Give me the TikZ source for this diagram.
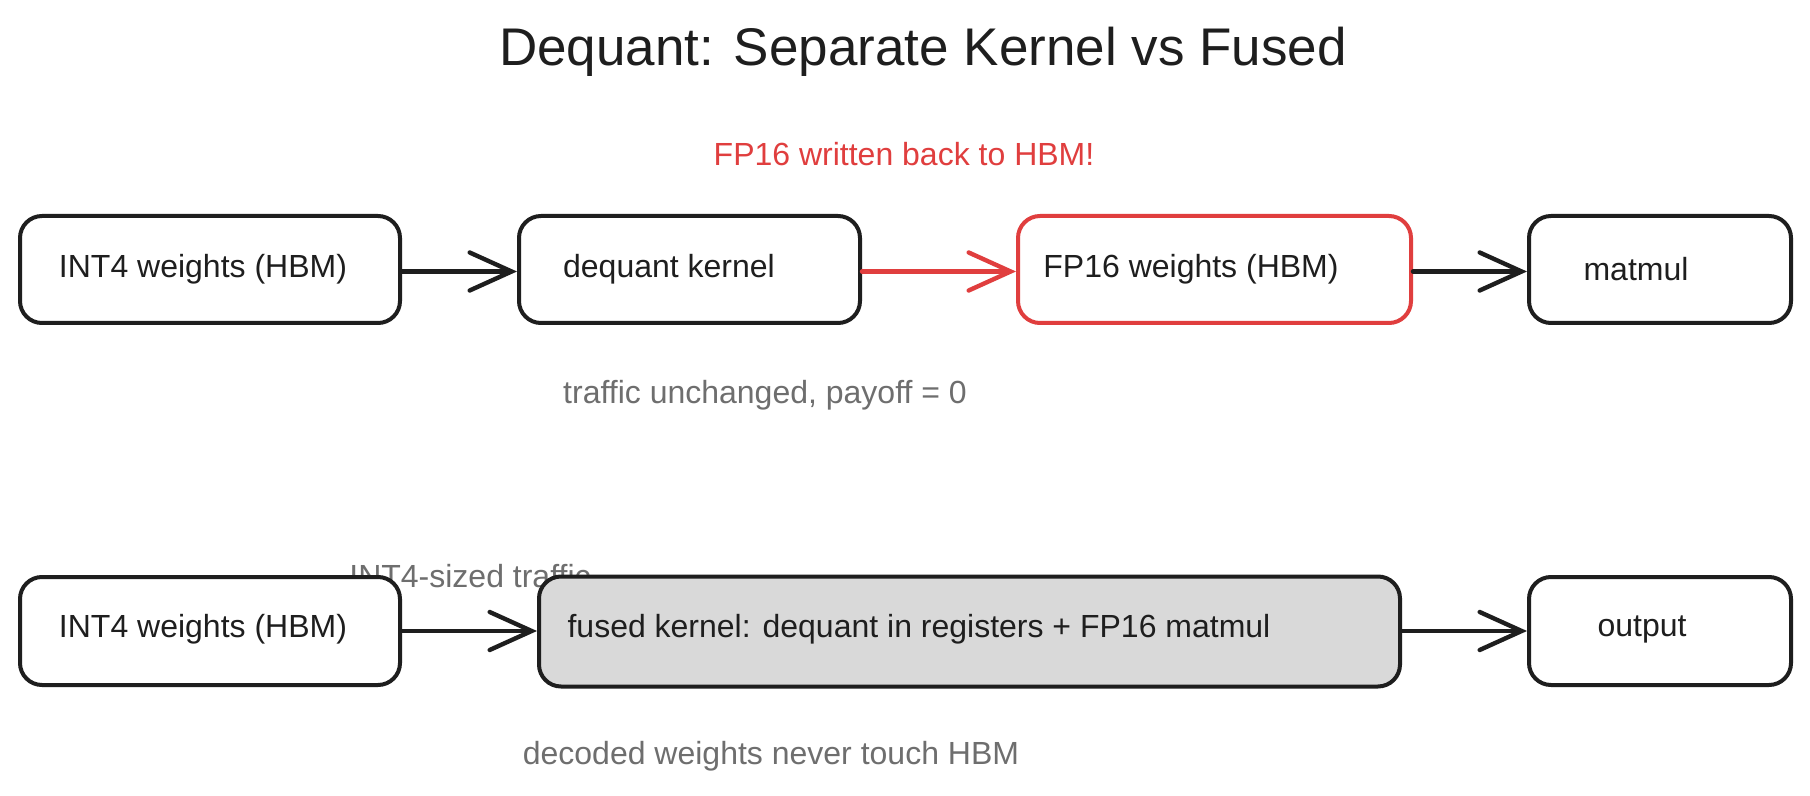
\documentclass[tikz,border=0pt]{standalone}
\usepackage{fontspec}
\setmainfont{Liberation Sans}
\usetikzlibrary{arrows.meta}
\definecolor{ink}{HTML}{1E1E1E}
\definecolor{redink}{HTML}{E03E3E}
\definecolor{greyink}{HTML}{6E6E6E}
\definecolor{fusedfill}{HTML}{D9D9D9}
\tikzset{
  box/.style={draw=ink, line width=2pt, rounded corners=11pt, fill=white, inner sep=0pt},
  redbox/.style={box, draw=redink},
  lbl/.style={font=\fontsize{16}{19}\selectfont, text=ink, inner sep=0pt},
  note/.style={font=\fontsize{16}{19}\selectfont, text=greyink, inner sep=0pt},
  arr/.style={draw=ink, line width=2.2pt, line cap=round, -{Straight Barb[length=21pt, width=19pt, line width=2.2pt, line cap=round]}},
  redarr/.style={arr, draw=redink}
}
\begin{document}
\begin{tikzpicture}[x=0.5pt, y=-0.5pt]
\useasboundingbox (0,0) rectangle (1810,796);
\fill[white] (0,0) rectangle (1810,796);
% title
\node[font=\fontsize{26.5}{30}\selectfont, text=ink, inner sep=0pt] (title) at (923,52) {Dequant: Separate Kernel vs Fused};
% row 1
\node[box, minimum width=190pt, minimum height=53.5pt] (a1) at (210,269.5) {};
\node[box, minimum width=170.5pt, minimum height=53.5pt] (a2) at (689.5,269.5) {};
\node[redbox, minimum width=196.5pt, minimum height=53.5pt] (a3) at (1214.5,269.5) {};
\node[box, minimum width=131pt, minimum height=53.5pt] (a4) at (1660,269.5) {};
\node[lbl] (ta1) at (203,269) {INT4 weights (HBM)};
\node[lbl] (ta2) at (669,269) {dequant kernel};
\node[lbl] (ta3) at (1191,269) {FP16 weights (HBM)};
\node[lbl] (ta4) at (1636,269) {matmul};
\draw[arr] ([yshift=-1pt]a1.east) -- ([yshift=-1pt]a2.west);
\draw[redarr] ([yshift=-1pt]a2.east) -- ([yshift=-1pt]a3.west);
\draw[arr] ([yshift=-1pt]a3.east) -- ([yshift=-1pt]a4.west);
\node[font=\fontsize{16}{19}\selectfont, text=redink, inner sep=0pt] (redlbl) at (904,154) {FP16 written back to HBM!};
\node[note] (n1) at (765,395) {traffic unchanged, payoff = 0};
% row 2
\node[note] (n2) at (470,576) {INT4-sized traffic};
\node[box, minimum width=190pt, minimum height=54pt] (b1) at (210,631) {};
\node[box, fill=fusedfill, minimum width=430.5pt, minimum height=55pt] (b2) at (969.5,631.5) {};
\node[box, minimum width=131pt, minimum height=54pt] (b3) at (1660,631) {};
\node[lbl] (tb1) at (203,629) {INT4 weights (HBM)};
\node[lbl] (tb2) at (919,629) {fused kernel: dequant in registers + FP16 matmul};
\node[lbl] (tb3) at (1642,629) {output};
\draw[arr] (b1.east) -- (b1.east -| b2.west);
\draw[arr] (b2.east |- b3.west) -- (b3.west);
\node[note] (n3) at (771,756) {decoded weights never touch HBM};
\end{tikzpicture}
\end{document}
